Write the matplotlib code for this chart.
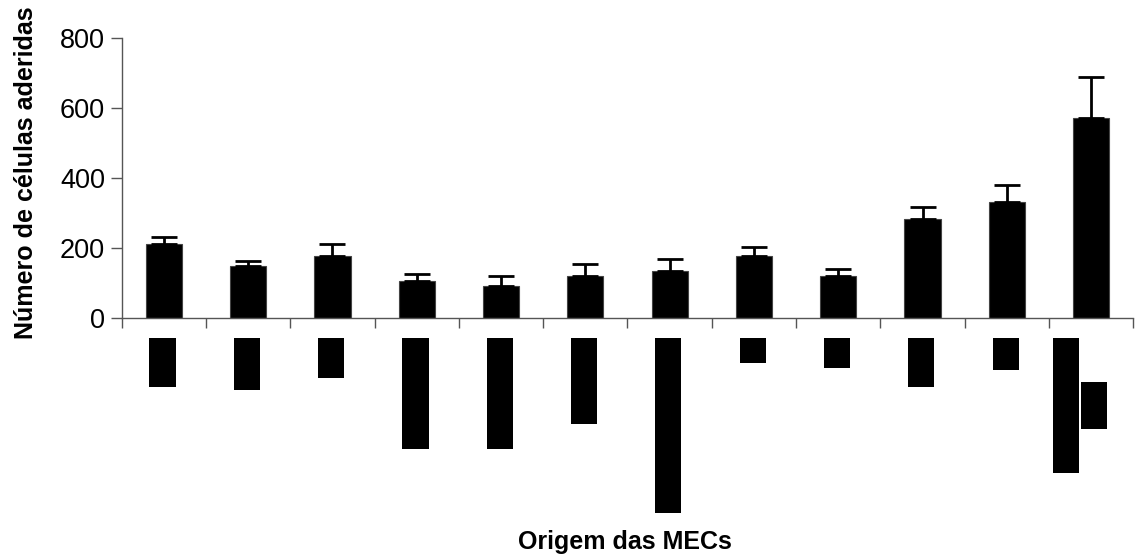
import matplotlib.pyplot as plt
import numpy as np

# Data
means = [212, 149, 178, 107, 93, 122, 136, 179, 122, 284, 332, 571]
errors = [20, 14, 33, 20, 27, 33, 33, 25, 20, 33, 49, 118]

# Category labels appear only as black blocks (rotated text rendered as boxes)
# length of each block in y-data units, hanging under the axis
label_len = [140, 149, 114, 316, 316, 245, 499, 71, 85, 140, 91, 385]
label_top = -56
# second line of the last label
label2_top = -182
label2_len = 133

plt.rcParams['font.family'] = ['Liberation Sans', 'DejaVu Sans']

fig = plt.figure(figsize=(11.35, 5.57), dpi=100)
ax = fig.add_axes([0.1072, 0.4285, 0.8913, 0.5033])

x = np.arange(len(means))
ax.bar(x, means, width=0.43, color='black', edgecolor='#444444', linewidth=0.8, zorder=2)
ax.errorbar(x, means, yerr=[np.zeros(len(errors)), errors], fmt='none',
            ecolor='black', elinewidth=2, capsize=9.5, capthick=2, zorder=3)

# black label blocks under the axis; last label has two lines side by side
block_x = x - 0.015
block_x[-1] = x[-1] - 0.30
ax.bar(block_x, [-v for v in label_len], bottom=label_top, width=0.31,
       color='black', clip_on=False, zorder=2)
ax.bar([x[-1] + 0.03], [-label2_len], bottom=label2_top, width=0.31,
       color='black', clip_on=False, zorder=2)

ax.set_xlim(-0.5, len(means) - 0.5)
ax.set_ylim(0, 800)
ax.set_yticks([0, 200, 400, 600, 800])
ax.set_xticks(np.arange(-0.5, len(means), 1.0))
ax.set_xticklabels([])

for s in ['top', 'right']:
    ax.spines[s].set_visible(False)
for s in ['left', 'bottom']:
    ax.spines[s].set_color('#555555')
    ax.spines[s].set_linewidth(1.0)

ax.tick_params(axis='y', direction='out', length=8, width=1, color='#555555',
               labelsize=19.5, pad=4)
ax.tick_params(axis='x', direction='out', length=7, width=1, color='#555555')

fig.text(0.023, 0.69, 'Número de células aderidas', rotation=90, ha='center',
         va='center', fontsize=18, fontweight='bold')
fig.text(0.551, 0.027, 'Origem das MECs', ha='center', va='center',
         fontsize=18, fontweight='bold')

plt.savefig('out.png', dpi=100, facecolor='w')
